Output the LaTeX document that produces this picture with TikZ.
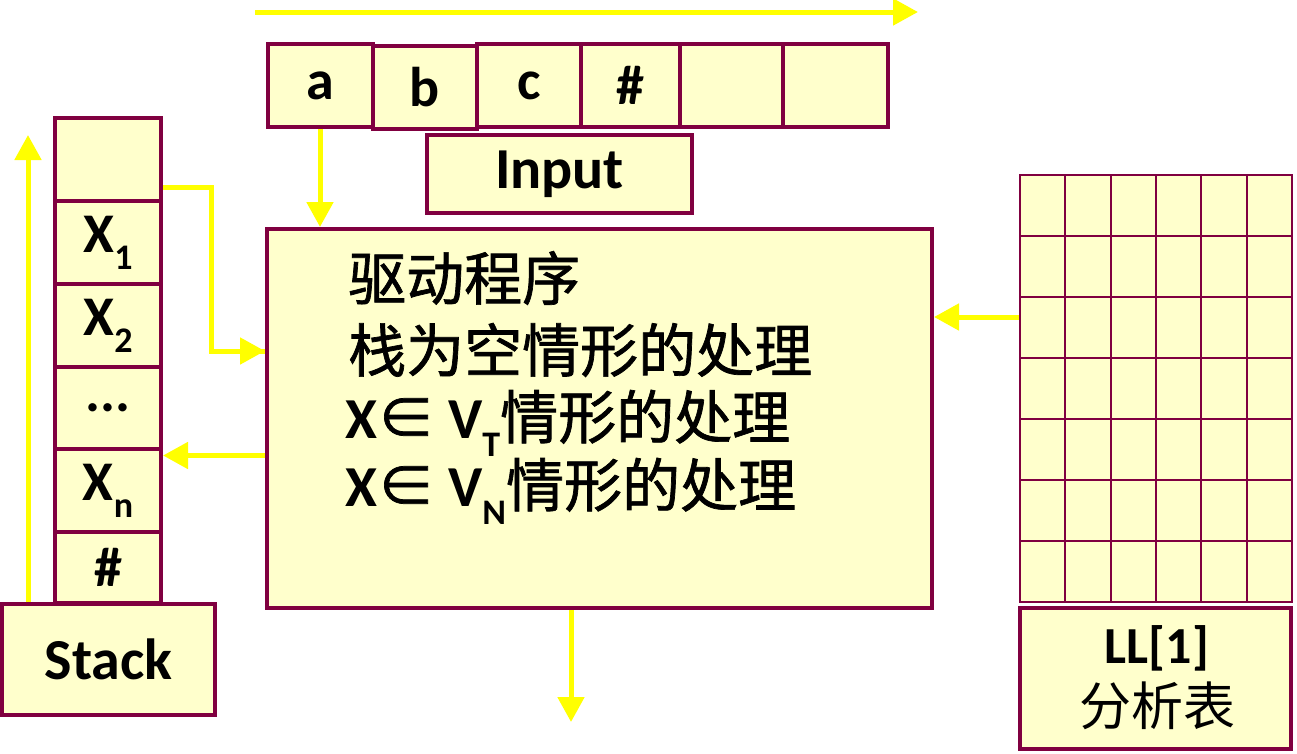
\documentclass[tikz,border=0pt]{standalone}
\usepackage{fontspec}
\setmainfont{Carlito}
\newfontfamily\cjk{Noto Sans CJK SC}
\newfontfamily\cjkb[FakeBold=1.2]{Noto Sans CJK SC}
\usetikzlibrary{arrows.meta}
\definecolor{boxfill}{RGB}{255,255,204}
\definecolor{boxline}{RGB}{128,0,64}
\definecolor{arrowyel}{RGB}{255,255,0}
\newcommand{\sub}[1]{\raisebox{-0.3em}{\fontsize{36}{36}\selectfont #1}}
\newcommand{\lat}[1]{{\rmfamily\bfseries #1}}
\tikzset{
  cellbox/.style={draw=boxline, fill=boxfill, line width=4pt, inner sep=0pt, font=\fontsize{56}{56}\selectfont\bfseries},
  drvline/.style={anchor=west, inner sep=0pt, font=\fontsize{58}{58}\selectfont\cjkb},
  yarrow/.style={draw=arrowyel, line width=5pt, -{Triangle[length=25pt,width=26pt]}},
  yline/.style={draw=arrowyel, line width=5pt}
}
\begin{document}
\begin{tikzpicture}[x=1pt,y=-1pt]
\useasboundingbox (0,0) rectangle (1297,753);
% stack
\node[cellbox, minimum width=106pt, minimum height=83pt] (s0) at (108,159.5) {};
\node[cellbox, minimum width=106pt, minimum height=83pt] (s1) at (108,242.5) {X\sub{1}};
\node[cellbox, minimum width=106pt, minimum height=83pt] (s2) at (108,325.5) {X\sub{2}};
\node[cellbox, minimum width=106pt, minimum height=82pt] (s3) at (108,408) {...};
\node[cellbox, minimum width=106pt, minimum height=83pt] (s4) at (108,490.5) {X\sub{n}};
\node[cellbox, minimum width=106pt, minimum height=71pt] (s5) at (108,567.5) {\#};
\node[cellbox, minimum width=213pt, minimum height=111pt, font=\fontsize{58}{58}\selectfont\bfseries] (stk) at (108.5,659.5) {Stack};
% input tape
\node[cellbox, minimum width=105pt, minimum height=83pt] (a) at (320.5,85.5) {a};
\node[cellbox, minimum width=104pt, minimum height=83pt] (b) at (425,87.5) {b};
\node[cellbox, minimum width=104pt, minimum height=83pt] (c) at (529,85.5) {c};
\node[cellbox, minimum width=99pt, minimum height=83pt] (h) at (630.5,85.5) {\#};
\node[cellbox, minimum width=103pt, minimum height=83pt] (e1) at (731.5,85.5) {};
\node[cellbox, minimum width=105pt, minimum height=83pt] (e2) at (835.5,85.5) {};
\node[cellbox, minimum width=265pt, minimum height=78pt, font=\fontsize{58}{58}\selectfont\bfseries] (inp) at (559.5,174) {Input};
% driver
\node[cellbox, minimum width=665pt, minimum height=379pt] (drv) at (599.5,418.5) {};
\node[drvline] (l1) at (348,278) {驱动程序};
\node[drvline] (l2) at (348,350) {栈为空情形的处理};
\node[drvline] (l3) at (345,423) {\lat{X}∈ \lat{V\sub{T}}情形的处理};
\node[drvline] (l4) at (345,491) {\lat{X}∈ \lat{V\sub{N}}情形的处理};
% table
\node[draw=boxline, fill=boxfill, line width=2pt, minimum width=272pt, minimum height=427pt, inner sep=0pt] (tbl) at (1156,388.5) {};
\foreach \i in {1,...,5} \draw[boxline, line width=2pt] (1020+\i*45.33,175) -- (1020+\i*45.33,602);
\foreach \j in {1,...,6} \draw[boxline, line width=2pt] (1020,175+\j*61) -- (1292,175+\j*61);
\node[cellbox, minimum width=271pt, minimum height=141pt] (ll) at (1155.5,678.5) {};
\node[inner sep=0pt, font=\fontsize{52}{52}\selectfont\bfseries] (ll1) at (1157,648) {LL[1]};
\node[inner sep=0pt, font=\fontsize{52}{52}\selectfont\cjk] (ll2) at (1157,706) {分析表};
% arrows
\coordinate (ts) at (255,12);
\coordinate (te) at (918,12);
\draw[yarrow] (ts) -- (te);
\draw[yarrow] ([xshift=-0.5pt]a.south) -- ([xshift=-279.5pt]drv.north);
\draw[yline] ([yshift=-27.5pt]s0.east) -- ++(48,0) |- ([yshift=67.5pt]drv.west);
\draw[yarrow] ([yshift=67.5pt]drv.west) ++(-12,0) -- ([yshift=67.5pt]drv.west);
\draw[yarrow] ([yshift=35pt]drv.west |- s4) -- ([yshift=35pt]s4.east);
\draw[yarrow] ([yshift=71.5pt]tbl.west) -- ([yshift=101.5pt]drv.east);
\coordinate (out) at (571,722);
\draw[yarrow] ([xshift=-28.5pt]drv.south) -- (out);
\coordinate (up) at (28,135);
\draw[yarrow] ([xshift=-80.5pt]stk.north) -- (up);
\end{tikzpicture}
\end{document}
